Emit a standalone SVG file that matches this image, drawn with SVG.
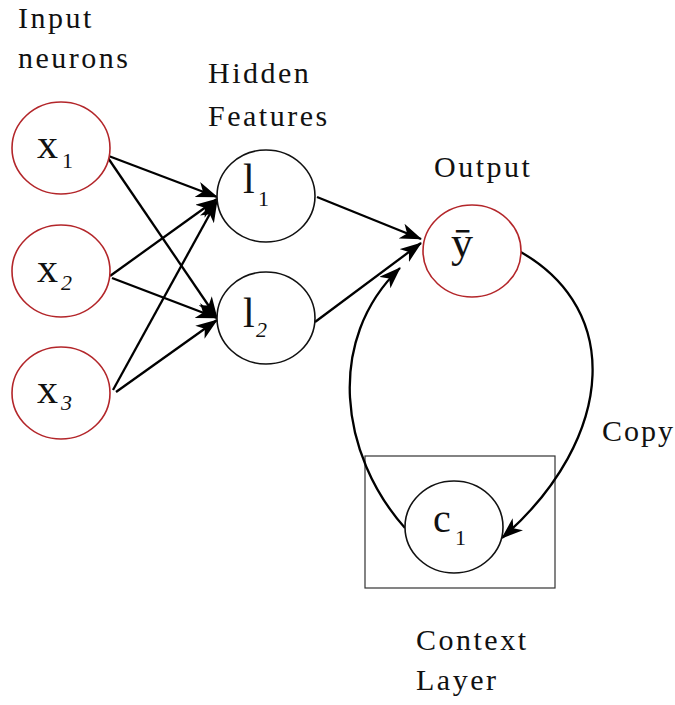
<svg xmlns="http://www.w3.org/2000/svg" width="675" height="705" viewBox="0 0 675 705">
  <style>
    text { font-family: 'Liberation Serif', 'DejaVu Serif', serif; fill: #111; }
    .lbl { font-size: 30px; letter-spacing: 2.5px; }
    .sym { font-size: 42px; }
    .sub { font-size: 22px; }
    .it { font-style: italic; }
    .in { fill: #fff; stroke: #b3262a; stroke-width: 1.6; }
    .hid { fill: #fff; stroke: #111; stroke-width: 1.6; }
    .edge { fill: none; stroke: #000; stroke-width: 2.3; marker-end: url(#head); }
    .box { fill: none; stroke: #333; stroke-width: 1.2; }
  </style>
  <defs>
    <marker id="head" viewBox="0 0 22 16" refX="21" refY="8" markerWidth="22" markerHeight="16" markerUnits="userSpaceOnUse" orient="auto">
      <path d="M0,0 L22,8 L0,16 L6,8 Z" fill="#000"/>
    </marker>
  </defs>

  <rect fill="#fff" x="0" y="0" width="675" height="705"/>

  <!-- layer titles -->
  <g id="titles">
    <text class="lbl" x="18" y="28">Input</text>
    <text class="lbl" x="18" y="68">neurons</text>
    <text class="lbl" x="208" y="83">Hidden</text>
    <text class="lbl" x="208" y="126">Features</text>
    <text class="lbl" x="434" y="177">Output</text>
    <text class="lbl" x="602" y="441" style="letter-spacing:2px">Copy</text>
    <text class="lbl" x="416" y="650">Context</text>
    <text class="lbl" x="416" y="690">Layer</text>
  </g>

  <!-- context layer frame -->
  <rect id="context-frame" class="box" x="365" y="456" width="190" height="132"/>

  <!-- connectors -->
  <g id="connectors">
    <line class="edge" x1="106" y1="155" x2="217" y2="197"/>
    <line class="edge" x1="106" y1="155" x2="217" y2="318"/>
    <line class="edge" x1="110" y1="276" x2="217" y2="199"/>
    <line class="edge" x1="112" y1="278" x2="217" y2="318"/>
    <line class="edge" x1="113" y1="390" x2="217" y2="201"/>
    <line class="edge" x1="116" y1="392" x2="217" y2="320"/>
    <line class="edge" x1="317" y1="197" x2="421" y2="239"/>
    <line class="edge" x1="315" y1="322" x2="421" y2="243"/>
    <path class="edge" d="M405,528 C340,455 325,340 400,268"/>
    <path class="edge" d="M503,243 C630,300 615,440 502,538"/>
  </g>

  <!-- input neurons -->
  <g id="x1">
    <ellipse class="in" cx="61" cy="148" rx="49" ry="46"/>
    <text class="sym" x="37" y="158">x</text>
    <text class="sub" x="62" y="168">1</text>
  </g>
  <g id="x2">
    <ellipse class="in" cx="61" cy="271" rx="49" ry="46"/>
    <text class="sym" x="37" y="282">x</text>
    <text class="sub it" x="61" y="290">2</text>
  </g>
  <g id="x3">
    <ellipse class="in" cx="61" cy="393" rx="49" ry="46"/>
    <text class="sym" x="37" y="403">x</text>
    <text class="sub it" x="61" y="410">3</text>
  </g>

  <!-- hidden features -->
  <g id="l1">
    <ellipse class="hid" cx="266" cy="196" rx="49" ry="46"/>
    <text class="sym" x="243" y="193">l</text>
    <text class="sub" x="258" y="206">1</text>
  </g>
  <g id="l2">
    <ellipse class="hid" cx="266" cy="318" rx="49" ry="46"/>
    <text class="sym" x="243" y="327">l</text>
    <text class="sub it" x="256" y="337">2</text>
  </g>

  <!-- output -->
  <g id="y">
    <ellipse class="in" cx="472" cy="251" rx="49" ry="46"/>
    <text class="sym" x="451" y="257" style="font-size:44px">ȳ</text>
  </g>

  <!-- context unit -->
  <g id="c1">
    <ellipse class="hid" cx="454" cy="527" rx="49" ry="46"/>
    <text class="sym" x="433" y="532" style="font-size:40px">c</text>
    <text class="sub" x="455" y="545">1</text>
  </g>
</svg>
